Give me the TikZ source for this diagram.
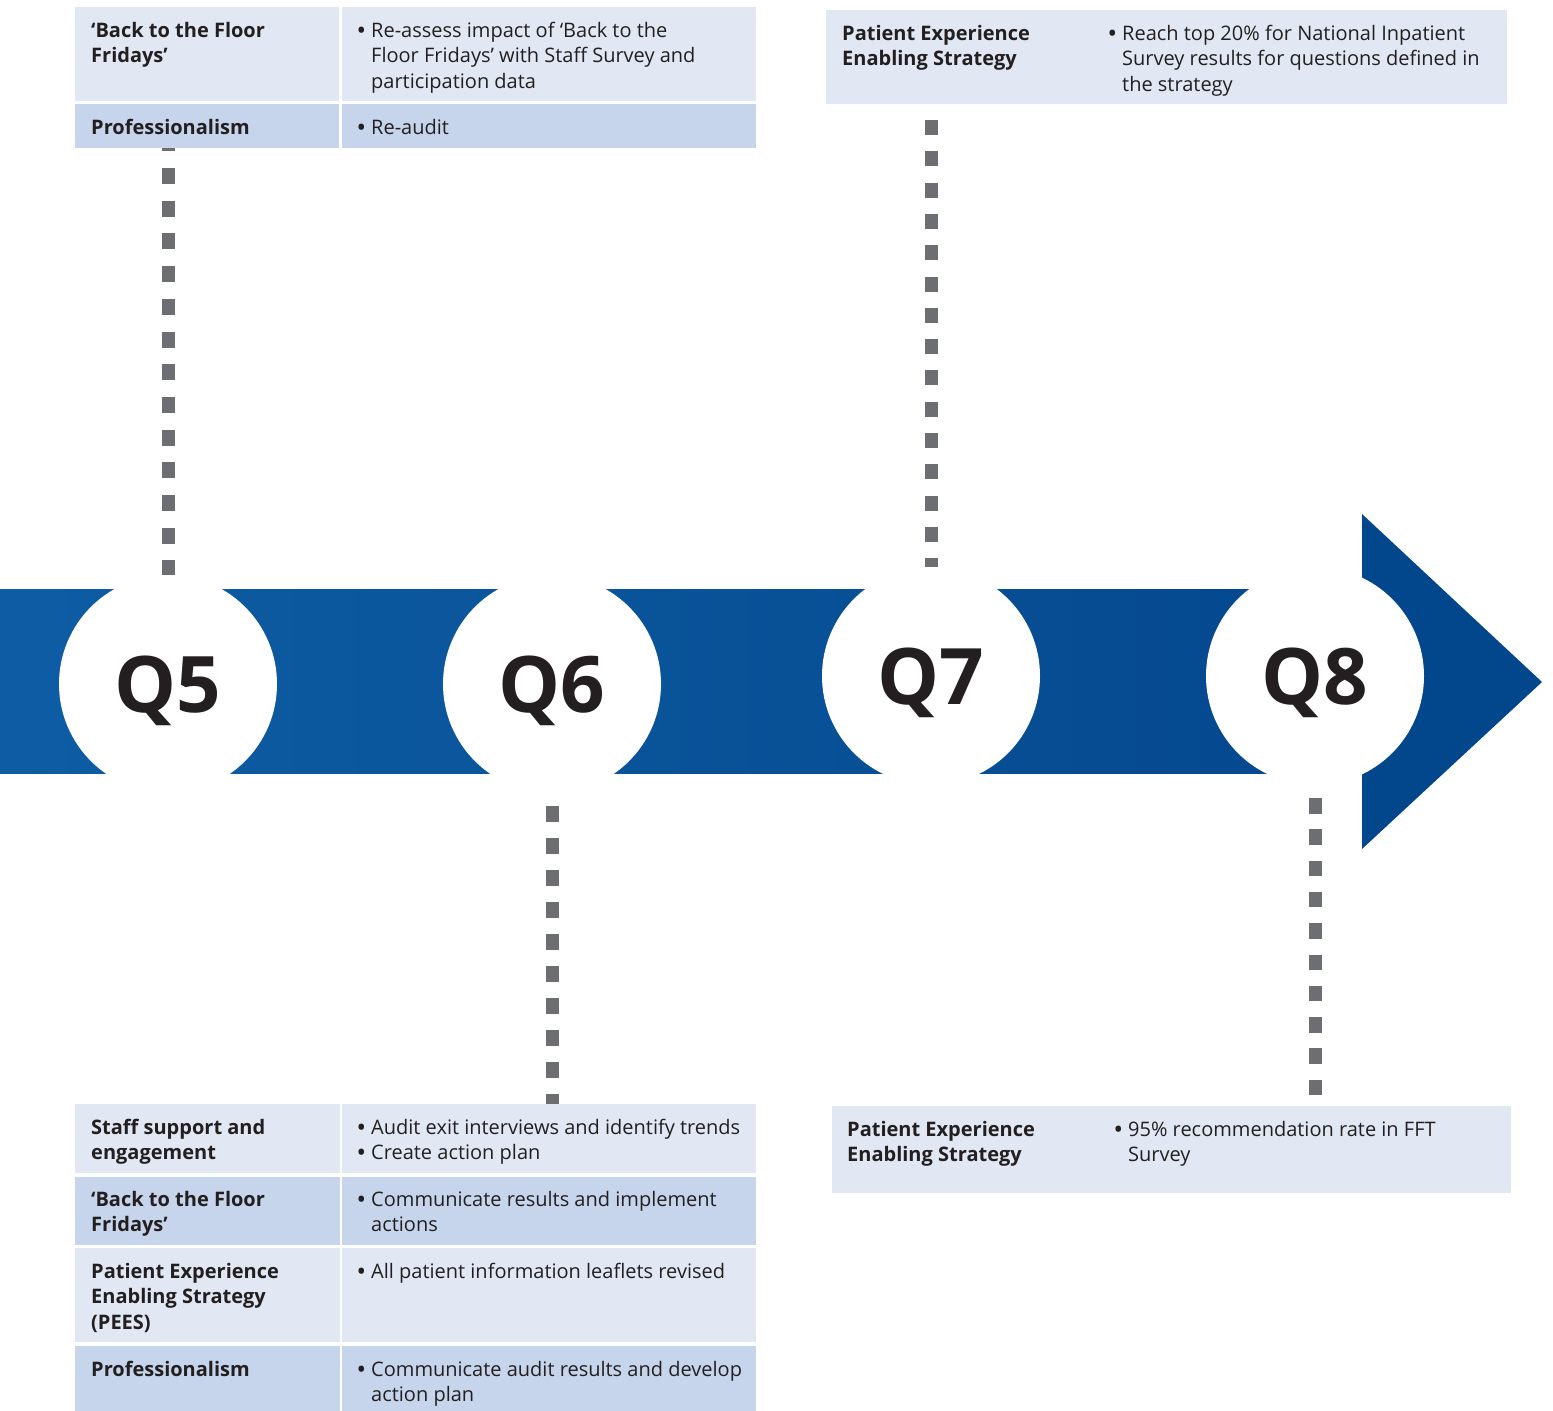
\documentclass[tikz,border=0pt]{standalone}
\usepackage{fontspec}
\setmainfont{Open Sans}
\definecolor{bandL}{RGB}{14,93,164}
\definecolor{bandR}{RGB}{4,72,142}
\definecolor{headblue}{RGB}{2,70,140}
\definecolor{rowlt}{RGB}{225,232,244}
\definecolor{rowdk}{RGB}{198,213,236}
\definecolor{dotgray}{RGB}{109,110,113}
\definecolor{ink}{RGB}{35,31,32}
\newcommand{\bul}{\llap{{\bfseries\textbullet}\hspace{6pt}}}
\tikzset{
  qcirc/.style={circle, fill=white, minimum size=218pt, inner sep=0pt, outer sep=0pt,
    text=ink, font=\fontsize{78}{78}\selectfont\bfseries, text height=56pt, text depth=0pt},
  cell/.style={fill=#1, anchor=north west, inner sep=0pt, outer sep=0pt},
  hd/.style={anchor=base west, align=left, inner sep=0pt, text=ink,
    font=\fontsize{20}{25.7}\selectfont\bfseries},
  tx/.style={anchor=base west, align=left, inner sep=0pt, text=ink,
    font=\fontsize{20}{25.7}\selectfont},
  dotline/.style={draw=dotgray, line width=13pt}
}
\begin{document}
\begin{tikzpicture}[x=1pt, y=-1pt]
  \useasboundingbox (0,0) rectangle (1553,1411);
  % timeline band
  \shade [left color=bandL, right color=bandR] (0,589) rectangle (1362,773);
  \fill [headblue] (1362,514) -- (1542,682) -- (1362,849) -- cycle;
  \node [qcirc] (q5) at (168,684) {Q5};
  \node [qcirc] (q6) at (552,684) {Q6};
  \node [qcirc] (q7) at (931,676) {Q7};
  \node [qcirc] (q8) at (1315,676) {Q8};
  % Q5 table (text nodes sit on the baseline of their last line)
  \node [cell=rowlt, minimum width=264pt, minimum height=94pt] (a1l) at (75,7) {};
  \node [cell=rowlt, minimum width=414pt, minimum height=94pt] (a1r) at (342,7) {};
  \node [cell=rowdk, minimum width=264pt, minimum height=44pt] (a2l) at (75,104) {};
  \node [cell=rowdk, minimum width=414pt, minimum height=44pt] (a2r) at (342,104) {};
  \node [hd] (a1lt) at (91,62.7) {‘Back to the Floor\\Fridays’};
  \node [tx] (a1rt) at (371,88.4) {\bul Re-assess impact of ‘Back to the\\Floor Fridays’ with Staff Survey and\\participation data};
  \node [hd] (a2lt) at (91,134) {Professionalism};
  \node [tx] (a2rt) at (371,134) {\bul Re-audit};
  % Q7 table
  \node [cell=rowlt, minimum width=681pt, minimum height=94pt] (b1) at (826,10) {};
  \node [hd] (b1lt) at (842,65.7) {Patient Experience\\Enabling Strategy};
  \node [tx] (b1rt) at (1122,91.4) {\bul Reach top 20\% for National Inpatient\\Survey results for questions defined in\\the strategy};
  % Q6 table
  \node [cell=rowlt, minimum width=265pt, minimum height=69pt] (c1l) at (75,1104) {};
  \node [cell=rowlt, minimum width=414pt, minimum height=69pt] (c1r) at (342,1104) {};
  \node [cell=rowdk, minimum width=265pt, minimum height=68pt] (c2l) at (75,1177) {};
  \node [cell=rowdk, minimum width=414pt, minimum height=68pt] (c2r) at (342,1177) {};
  \node [cell=rowlt, minimum width=265pt, minimum height=94pt] (c3l) at (75,1248) {};
  \node [cell=rowlt, minimum width=414pt, minimum height=94pt] (c3r) at (342,1248) {};
  \node [cell=rowdk, minimum width=265pt, minimum height=65pt] (c4l) at (75,1346) {};
  \node [cell=rowdk, minimum width=414pt, minimum height=65pt] (c4r) at (342,1346) {};
  \node [hd] (c1lt) at (91,1159.7) {Staff support and\\engagement};
  \node [tx] (c1rt) at (371,1159.7) {\bul Audit exit interviews and identify trends\\\bul Create action plan};
  \node [hd] (c2lt) at (91,1231.7) {‘Back to the Floor\\Fridays’};
  \node [tx] (c2rt) at (371,1231.7) {\bul Communicate results and implement\\actions};
  \node [hd] (c3lt) at (91,1329.4) {Patient Experience\\Enabling Strategy\\(PEES)};
  \node [tx] (c3rt) at (371,1278) {\bul All patient information leaflets revised};
  \node [hd] (c4lt) at (91,1376) {Professionalism};
  \node [tx] (c4rt) at (371,1401.7) {\bul Communicate audit results and develop\\action plan};
  % Q8 table
  \node [cell=rowlt, minimum width=679pt, minimum height=87pt] (d1) at (832,1106) {};
  \node [hd] (d1lt) at (847,1161.7) {Patient Experience\\Enabling Strategy};
  \node [tx] (d1rt) at (1128,1161.7) {\bul 95\% recommendation rate in FFT\\Survey};
  % dotted links
  \draw [dotline, dash pattern=on 16pt off 16.7pt, dash phase=12.7pt] (a2l.south -| q5) -- (q5.north);
  \draw [dotline, dash pattern=on 15pt off 16.3pt, dash phase=15.3pt] (b1.south -| q7) -- (q7.north);
  \draw [dotline, dash pattern=on 16pt off 16pt, dash phase=19pt] (q6.south) -- (c1r.north -| q6);
  \draw [dotline, dash pattern=on 15.5pt off 15.8pt, dash phase=18.3pt] (q8.south) -- (d1.north -| q8);
\end{tikzpicture}
\end{document}
